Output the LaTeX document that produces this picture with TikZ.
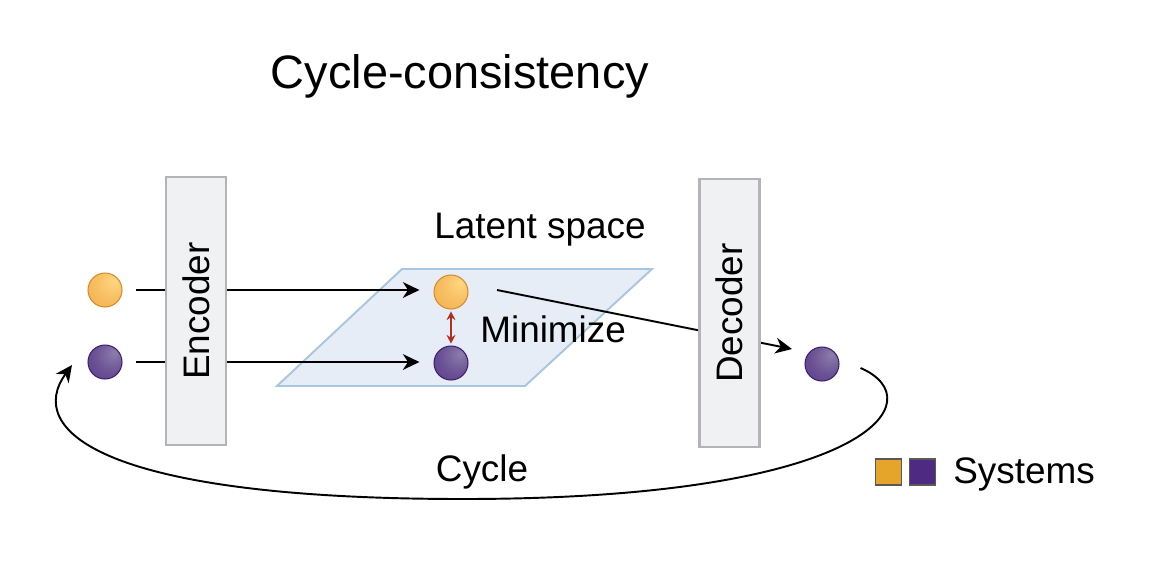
\documentclass[tikz,border=0pt]{standalone}
\usepackage{fontspec}
\setmainfont{Liberation Sans}
\usetikzlibrary{arrows.meta,positioning}
\definecolor{sysorg}{RGB}{229,165,42}
\definecolor{sysorglt}{RGB}{255,214,130}
\definecolor{sysorgmd}{RGB}{238,164,62}
\definecolor{sysorgdk}{RGB}{214,140,44}
\definecolor{syspur}{RGB}{78,42,130}
\definecolor{syspurlt}{RGB}{140,126,170}
\definecolor{syspurmd}{RGB}{80,44,132}
\definecolor{syspurdk}{RGB}{62,32,110}
\definecolor{boxedge}{RGB}{180,180,184}
\definecolor{boxfill}{RGB}{240,241,243}
\definecolor{latfill}{RGB}{230,237,246}
\definecolor{latedge}{RGB}{168,198,222}
\definecolor{minred}{RGB}{176,48,40}
\pgfdeclareradialshading{orbshade}{\pgfpoint{14bp}{14bp}}{color(0bp)=(sysorglt); color(22bp)=(sysorglt!55!sysorgmd); color(60bp)=(sysorgmd); color(75bp)=(sysorgmd)}
\pgfdeclareradialshading{purshade}{\pgfpoint{14bp}{14bp}}{color(0bp)=(syspurlt); color(25bp)=(syspurlt!45!syspurmd); color(60bp)=(syspurmd); color(75bp)=(syspurmd)}
\newcommand{\lblfont}{\fontsize{21}{25}\selectfont}
\tikzset{
  oball/.style={circle, minimum size=0.68cm, inner sep=0pt, draw=sysorgdk, line width=0.6pt,
                shading=orbshade},
  pball/.style={circle, minimum size=0.68cm, inner sep=0pt, draw=syspurdk, line width=0.6pt,
                shading=purshade},
  codbox/.style={draw=boxedge, fill=boxfill, line width=1.4pt, minimum width=1.2cm,
                 minimum height=5.36cm, inner sep=0pt, font=\lblfont},
  plane/.style={draw=latedge, fill=latfill, line width=1.1pt},
  feed/.style={line width=1.1pt},
  flowarr/.style={-{Stealth[length=9.5pt,width=9pt,inset=3pt]}, line width=1.1pt},
  minarr/.style={{Stealth[length=5pt,width=5pt]}-{Stealth[length=5pt,width=5pt]}, minred, line width=0.9pt},
  cyc/.style={-{Stealth[length=9.5pt,width=9pt,inset=3pt]}, line width=1.1pt},
  lbl/.style={font=\lblfont, inner sep=0pt, anchor=base},
  ttl/.style={font=\fontsize{26.7}{32}\selectfont, inner sep=0pt, anchor=base},
  legsq/.style={draw=black!65, line width=0.7pt, minimum size=0.52cm, inner sep=0pt},
}

\begin{document}
\begin{tikzpicture}[x=0.02cm, y=-0.02cm]
    \useasboundingbox (0,0) rectangle (1174,562);
    \node[ttl] (title) at (460,88) {Cycle-consistency};
    % latent plane
    \draw[plane] (402,269) -- (652,269) -- (525,386) -- (277,386) -- cycle;
    \node[lbl] (latlbl) at (540,238) {Latent space};
    \coordinate (latout) at (497,290);
    \coordinate (outtip) at (792,349);
    \draw[flowarr] (latout) -- (outtip);
    % encoder and decoder
    \node[codbox] (enc) at (196,311) {\rotatebox{90}{Encoder}};
    \node[codbox] (dec) at (729.5,313) {\rotatebox{90}{Decoder}};
    % points
    \node[oball] (src1) at (105,290) {};
    \node[pball] (src2) at (105,362) {};
    \node[oball] (lat1) at (451,292) {};
    \node[pball] (lat2) at (451,363) {};
    \node[pball] (out) at (822,364) {};
    \draw[feed, shorten <=0.26cm] (src1) -- (src1 -| enc.west);
    \draw[feed, shorten <=0.26cm] (src2) -- (src2 -| enc.west);
    \draw[flowarr, shorten >=0.28cm] (src1 -| enc.east) -- (src1 -| lat1.west);
    \draw[flowarr, shorten >=0.28cm] (src2 -| enc.east) -- (src2 -| lat2.west);
    \draw[minarr, shorten <=1pt, shorten >=1pt] (lat1) -- (lat2);
    \node[lbl, anchor=base west] (minlbl) at (480,342) {Minimize};
    % cycle back
    \coordinate (cycin) at (72,365);
    \draw[cyc] (out.east) ++(21,4) .. controls (935,400) and (870,499) .. (463,499)
      .. controls (100,499) and (25,430) .. (cycin);
    \node[lbl] (cyclbl) at (482,481) {Cycle};
    % legend
    \node[legsq, fill=sysorg] (legorg) at (888.5,472) {};
    \node[legsq, fill=syspur, right=0.14cm of legorg] (legpur) {};
    \node[lbl, anchor=base west] (leglbl) at (953,483) {Systems};
  \end{tikzpicture}
\end{document}
